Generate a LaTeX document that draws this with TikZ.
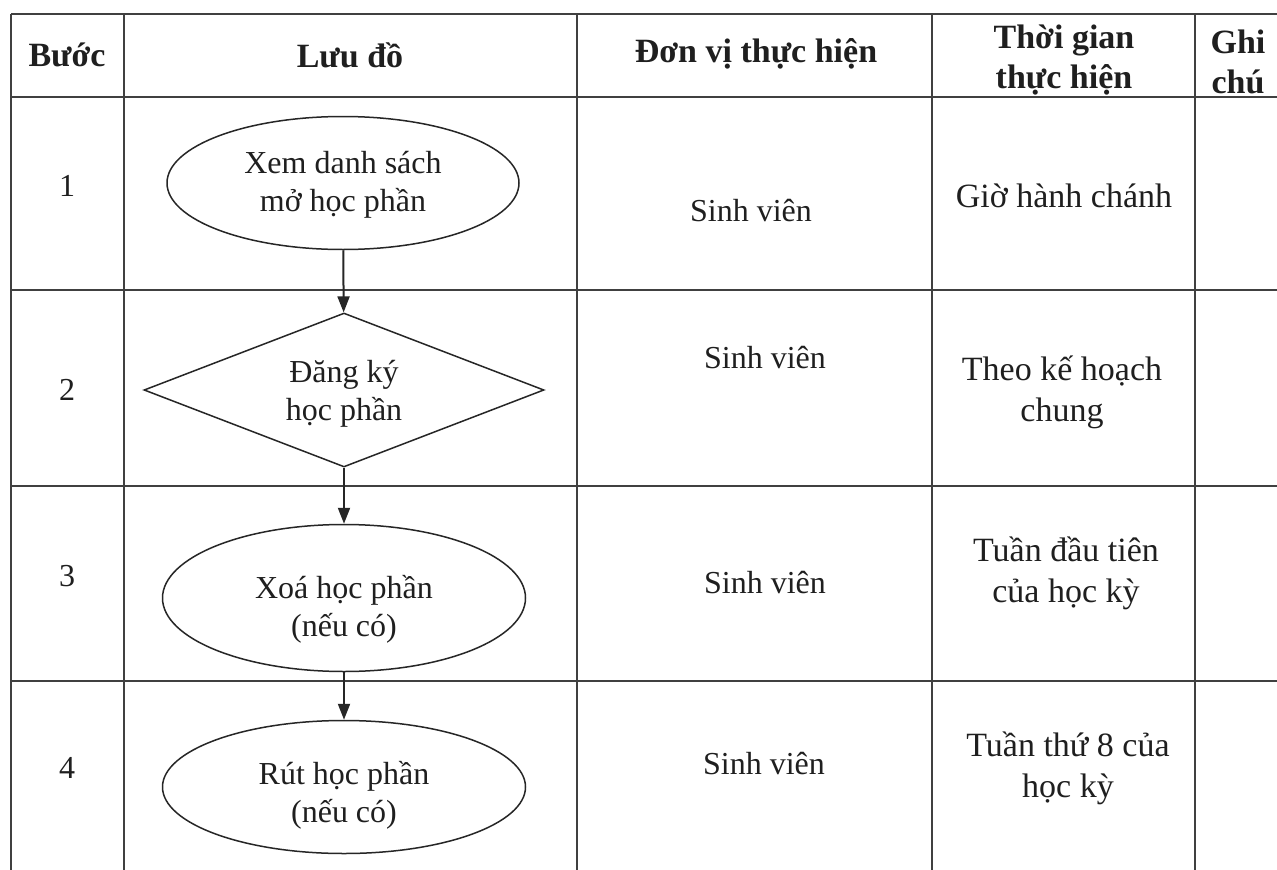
\documentclass[tikz,border=0pt]{standalone}
\usepackage{fontspec}
\setmainfont{Liberation Serif}
\usetikzlibrary{shapes.geometric,arrows.meta}
\begin{document}
\begin{tikzpicture}[x=1pt,y=-1pt,
  gridline/.style={line width=1.3pt, draw=black!75},
  txt/.style={font=\fontsize{32}{38}\selectfont, align=center, inner sep=0pt, text=black!88},
  bigtxt/.style={txt, font=\fontsize{34}{41}\selectfont},
  hdr/.style={txt, font=\fontsize{34}{40}\selectfont\bfseries},
  flowell/.style={ellipse, draw=black!85, line width=1.5pt, inner sep=0pt, minimum width=358pt, minimum height=138pt},
  flowdia/.style={diamond, aspect=2.6, draw=black!85, line width=1.5pt, inner sep=0pt, minimum width=400pt, minimum height=154pt},
  flowarr/.style={draw=black!85, -{Triangle[length=16pt,width=12pt]}, line width=2pt},
]
\useasboundingbox (0,0) rectangle (1277,870);
\fill[white] (0,0) rectangle (1277,870);
% grid
\foreach \yy in {14,97,290,486,681} \draw[gridline] (11,\yy) -- (1277,\yy);
\foreach \xx in {11,124,577,932,1195} \draw[gridline] (\xx,14) -- (\xx,870);
% header
\node[hdr] (h1) at (67,55) {Bước};
\node[hdr] (h2) at (350,55) {Lưu đồ};
\node[hdr] (h3) at (756,54) {Đơn vị thực hiện};
\node[hdr] (h4) at (1064,60) {Thời gian\\thực hiện};
\node[hdr] (h5) at (1238,62) {Ghi\\chú};
% step numbers
\node[txt] (n1) at (67,186) {1};
\node[txt] (n2) at (67,390) {2};
\node[txt] (n3) at (67,576) {3};
\node[txt] (n4) at (67,768) {4};
% flow shapes
\node[flowell, minimum width=352pt, minimum height=133pt] (e1) at (343,183) {};
\node[flowdia] (d2) at (344,390) {};
\node[flowell, minimum width=363pt, minimum height=147pt] (e3) at (344,598) {};
\node[flowell, minimum width=363pt, minimum height=133pt] (e4) at (344,787) {};
% flow texts
\node[txt] (e1t) at (343,185) {Xem danh sách\\mở học phần};
\node[txt] (d2t) at (344,394) {Đăng ký\\học phần};
\node[txt] (e3t) at (344,609) {Xoá học phần\\(nếu có)};
\node[txt] (e4t) at (344,795) {Rút học phần\\(nếu có)};
% connectors
\draw[flowarr] (e1) -- (d2);
\draw[flowarr] (d2) -- (e3);
\draw[flowarr] (e3) -- (e4);
% unit column
\node[txt] (u1) at (751,211) {Sinh viên};
\node[txt] (u2) at (765,358) {Sinh viên};
\node[txt] (u3) at (765,583) {Sinh viên};
\node[txt] (u4) at (764,764) {Sinh viên};
% time column
\node[bigtxt] (t1) at (1064,196) {Giờ hành chánh};
\node[bigtxt] (t2) at (1062,392) {Theo kế hoạch\\chung};
\node[bigtxt] (t3) at (1066,573) {Tuần đầu tiên\\của học kỳ};
\node[bigtxt] (t4) at (1068,768) {Tuần thứ 8 của\\học kỳ};
\end{tikzpicture}
\end{document}
